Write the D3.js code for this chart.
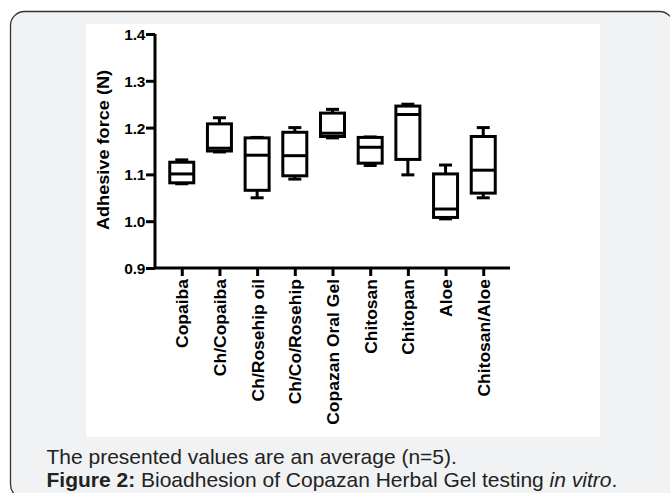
<!DOCTYPE html>
<html>
<head>
<meta charset="utf-8">
<script src="https://d3js.org/d3.v7.min.js"></script>
<style>
  body { margin: 0; background: #fff; }
  svg { display: block; }
</style>
</head>
<body>
<script>
  // data
  var categories = ["Copaiba", "Ch/Copaiba", "Ch/Rosehip oil", "Ch/Co/Rosehip",
                    "Copazan Oral Gel", "Chitosan", "Chitopan", "Aloe", "Chitosan/Aloe"];
  var mins    = [1.080, 1.148, 1.050, 1.090, 1.178, 1.119, 1.099, 1.005, 1.050];
  var q1s     = [1.082, 1.150, 1.066, 1.097, 1.181, 1.124, 1.132, 1.008, 1.060];
  var medians = [1.101, 1.156, 1.141, 1.140, 1.188, 1.158, 1.228, 1.026, 1.109];
  var q3s     = [1.126, 1.208, 1.178, 1.190, 1.231, 1.179, 1.246, 1.101, 1.181];
  var maxs    = [1.131, 1.221, 1.179, 1.200, 1.239, 1.180, 1.250, 1.120, 1.200];
  var yTicks  = [0.9, 1.0, 1.1, 1.2, 1.3, 1.4];

  var width = 670, height = 493;
  var font = "Arial, 'Liberation Sans', sans-serif";

  var svg = d3.select("body").append("svg")
      .attr("width", width)
      .attr("height", height);

  // rounded card behind the figure
  svg.append("rect")
      .attr("x", 10.5).attr("y", 11.5)
      .attr("width", 663).attr("height", 487)
      .attr("rx", 14).attr("ry", 14)
      .style("fill", "#f1f2f4")
      .style("stroke", "#333")
      .style("stroke-width", 1.3);

  // white image area
  svg.append("rect")
      .attr("x", 86).attr("y", 24)
      .attr("width", 514).attr("height", 413)
      .style("fill", "#fff");

  var x = d3.scalePoint().domain(categories).range([155, 510]).padding(0.71);
  var y = d3.scaleLinear().domain([0.9, 1.4]).range([268, 34]);

  var g = svg.append("g");

  // y axis
  var yAxis = g.append("g")
      .attr("transform", "translate(155,0)")
      .call(d3.axisLeft(y).tickValues(yTicks).tickFormat(d3.format(".1f")).tickSize(9).tickPadding(1));
  yAxis.select(".domain").attr("d", "M0," + y(1.4) + "V" + y(0.9));
  yAxis.selectAll("path, line").style("stroke", "#000").style("stroke-width", 3);
  yAxis.selectAll("text")
      .attr("dy", "0.36em")
      .style("font-family", font)
      .style("font-weight", "bold")
      .style("font-size", "15.5px")
      .style("letter-spacing", "-0.3px")
      .style("fill", "#000");

  // x axis
  var xAxis = g.append("g")
      .attr("transform", "translate(0," + y(0.9) + ")")
      .call(d3.axisBottom(x).tickSize(8).tickSizeOuter(0));
  xAxis.select(".domain").attr("d", "M155,0H510");
  xAxis.selectAll("path, line").style("stroke", "#000").style("stroke-width", 3);
  xAxis.selectAll("text")
      .attr("transform", "translate(0,11) rotate(-90) scale(1.06,1)")
      .attr("x", 0).attr("y", 0).attr("dy", "0.36em")
      .style("text-anchor", "end")
      .style("font-family", font)
      .style("font-weight", "bold")
      .style("font-size", "16.5px")
      .style("fill", "#000");

  // y title
  g.append("text")
      .attr("transform", "translate(109," + (y(1.15) - 1) + ") rotate(-90) scale(1.1,1)")
      .style("text-anchor", "middle")
      .style("font-family", font)
      .style("font-weight", "bold")
      .style("font-size", "16.5px")
      .text("Adhesive force (N)");

  // boxes
  var boxW = 24, capW = 13;
  var rows = categories.map(function(c, i) {
    return { cat: c, min: mins[i], q1: q1s[i], med: medians[i], q3: q3s[i], max: maxs[i] };
  });

  var box = g.selectAll("g.box").data(rows).enter().append("g")
      .attr("class", "box")
      .attr("transform", function(d) { return "translate(" + x(d.cat) + ",0)"; })
      .style("stroke", "#000")
      .style("stroke-width", 3)
      .style("fill", "none");

  box.append("line")
      .attr("y1", function(d) { return y(d.max); })
      .attr("y2", function(d) { return y(d.q3); });
  box.append("line")
      .attr("y1", function(d) { return y(d.q1); })
      .attr("y2", function(d) { return y(d.min); });
  box.append("line")
      .attr("x1", -capW / 2).attr("x2", capW / 2)
      .attr("y1", function(d) { return y(d.max); })
      .attr("y2", function(d) { return y(d.max); });
  box.append("line")
      .attr("x1", -capW / 2).attr("x2", capW / 2)
      .attr("y1", function(d) { return y(d.min); })
      .attr("y2", function(d) { return y(d.min); });
  box.append("rect")
      .attr("x", -boxW / 2)
      .attr("width", boxW)
      .attr("y", function(d) { return y(d.q3); })
      .attr("height", function(d) { return y(d.q1) - y(d.q3); })
      .style("fill", "#fff");
  box.append("line")
      .attr("x1", -boxW / 2).attr("x2", boxW / 2)
      .attr("y1", function(d) { return y(d.med); })
      .attr("y2", function(d) { return y(d.med); });

  // caption
  var cap = svg.append("g")
      .style("font-family", font)
      .style("font-size", "21px")
      .style("fill", "#222");
  cap.append("text")
      .attr("x", 46.5).attr("y", 464)
      .text("The presented values are an average (n=5).");
  var line2 = cap.append("text").attr("x", 46.5).attr("y", 487);
  line2.append("tspan").style("font-weight", "bold").text("Figure 2:");
  line2.append("tspan").text(" Bioadhesion of Copazan Herbal Gel testing ");
  line2.append("tspan").style("font-style", "italic").text("in vitro");
  line2.append("tspan").text(".");
</script>
</body>
</html>
